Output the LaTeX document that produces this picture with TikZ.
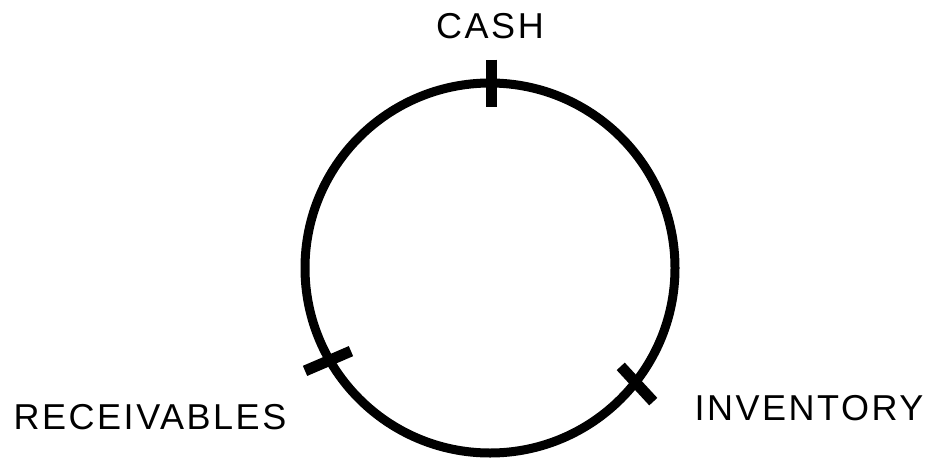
\documentclass[tikz,border=0pt]{standalone}
\usepackage{fontspec}
\usetikzlibrary{calc}
\setmainfont{Liberation Sans}[LetterSpace=7]
\begin{document}
\begin{tikzpicture}[x=1pt,y=-1pt,
  ring/.style={line width=9pt,draw=black},
  tick/.style={line width=11pt,draw=black},
  lbl/.style={anchor=base,inner sep=0pt,font=\fontsize{36}{40}\selectfont}]
\useasboundingbox (0,0) rectangle (933,458);
\coordinate (c) at (490,268);
\draw[ring] (c) circle[radius=185];
% ticks
\coordinate (tc) at (491,83);
\coordinate (tr) at (328,361);
\coordinate (ti) at (637,384);
\draw[tick] ($(tc)+(0,-23.5)$) -- ($(tc)+(0,23.5)$);
\draw[tick] ($(tr)+(156.7:25)$) -- ($(tr)+(-23.3:25)$);
\draw[tick] ($(ti)+(47.3:24)$) -- ($(ti)+(227.3:24)$);
% labels
\node[lbl] (cash) at (490,38) {CASH};
\node[lbl] (rec) at (150,429) {RECEIVABLES};
\node[lbl] (inv) at (809,420) {INVENTORY};
\end{tikzpicture}
\end{document}
